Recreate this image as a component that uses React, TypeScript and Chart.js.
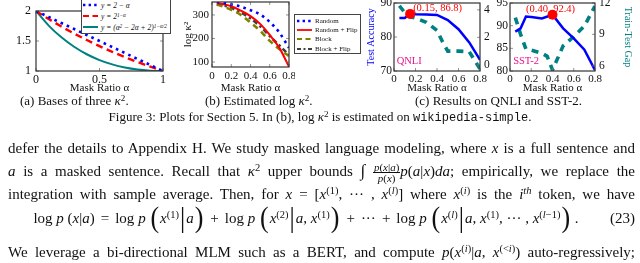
import React, { useEffect, useRef } from "react";
import { Chart, registerables } from "chart.js";
Chart.register(...registerables);

const SERIF = "'Liberation Serif','Times New Roman',Times,serif";
const MONO = "'Liberation Mono','DejaVu Sans Mono',monospace";

// ---------- (a) Bases of three kappa^2 ----------
const maskRatioA = [0, 0.1, 0.2, 0.3, 0.4, 0.5, 0.6, 0.7, 0.8, 0.9, 1.0];
const baseLinear = [2.0, 1.9, 1.8, 1.7, 1.6, 1.5, 1.4, 1.3, 1.2, 1.1, 1.0];
const baseExp = [2.0, 1.866, 1.741, 1.625, 1.516, 1.414, 1.32, 1.231, 1.149, 1.072, 1.0];
const baseQuad = [2.0, 1.757, 1.561, 1.404, 1.279, 1.182, 1.11, 1.058, 1.024, 1.006, 1.0];
const xTicksA = [0, 0.5, 1];
const xTickLabelsA = ["0", "0.5", "1"];
const yTicksA = [1, 1.5, 2];
const yTickLabelsA = ["1", "1.5", "2"];

// ---------- (b) Estimated log kappa^2 ----------
const maskRatioB = [0.05, 0.1, 0.2, 0.3, 0.4, 0.5, 0.6, 0.7, 0.8];
const logKRandom = [355, 352, 345, 335, 320, 302, 270, 225, 160];
const logKRandomFlip = [350, 347, 337, 318, 295, 262, 215, 160, 80];
const logKBlock = [344, 338, 322, 300, 268, 233, 190, 155, 125];
const logKBlockFlip = [346, 342, 330, 310, 285, 252, 210, 170, 130];
const legendB = ["Random", "Random + Flip", "Block", "Block + Flip"];
const xTicksB = [0, 0.2, 0.4, 0.6, 0.8];
const xTickLabelsB = ["0", "0.2", "0.4", "0.6", "0.8"];
const yTicksB = [100, 200, 300];
const yTickLabelsB = ["100", "200", "300"];

// ---------- (c) QNLI ----------
const ratioQnliAcc = [0.05, 0.1, 0.15, 0.2, 0.3, 0.4, 0.5, 0.6, 0.7, 0.8];
const qnliAcc = [85.6, 85.6, 86.8, 86.7, 86.6, 86.5, 85.0, 82.3, 78.4, 73.3];
const ratioQnliGap = [0.05, 0.1, 0.15, 0.2, 0.3, 0.4, 0.45, 0.5, 0.6, 0.7, 0.8];
const qnliGap = [4.3, 3.8, 3.5, 3.4, 3.1, 2.5, 1.7, 1.0, 1.0, 0.95, -0.3];
const qnliBest = [0.15, 86.8];
const yTicksQnliAcc = [70, 80, 90];
const yTicksQnliGap = [0, 2, 4];

// ---------- (c) SST-2 ----------
const ratioSstAcc = [0.05, 0.1, 0.15, 0.2, 0.3, 0.4, 0.5, 0.6, 0.7, 0.8];
const sstAcc = [88.7, 89.4, 92.0, 91.9, 91.6, 92.4, 89.4, 87.2, 84.7, 80.2];
const ratioSstGap = [0.05, 0.1, 0.15, 0.2, 0.3, 0.35, 0.4, 0.5, 0.6, 0.7, 0.8];
const sstGap = [10.6, 9.0, 7.6, 7.5, 7.2, 6.9, 5.6, 7.9, 8.8, 9.8, 11.7];
const sstBest = [0.4, 92.4];
const yTicksSstAcc = [80, 85, 90, 95];
const yTicksSstGap = [6, 9, 12];
const xTicksC = [0, 0.2, 0.4, 0.6, 0.8];
const xTickLabelsC = ["0", "0.2", "0.4", "0.6", "0.8"];

const BLUE = "#0000ff";
const RED = "#ff0000";
const TEAL = "#008080";
const OLIVE = "#808000";
const DGRAY = "#404040";
const MAGENTA = "#e6148c";

const pts = (xs: number[], ys: number[]) => xs.map((x, i) => ({ x, y: ys[i] }));

const annotationPlugin = {
  id: "annot",
  afterDatasetsDraw(chart: any, _args: any, opts: any) {
    const items = (opts && opts.items) || [];
    const ctx = chart.ctx;
    ctx.save();
    for (const it of items) {
      const xs = chart.scales.x;
      const ys = chart.scales[it.yAxis || "y"];
      const px = xs.getPixelForValue(it.x) + (it.dx || 0);
      const py = ys.getPixelForValue(it.y) + (it.dy || 0);
      ctx.font = `${it.size}px ${SERIF}`;
      ctx.fillStyle = it.color;
      ctx.textAlign = it.align;
      ctx.textBaseline = "middle";
      ctx.fillText(it.text, px, py);
    }
    ctx.restore();
  },
};

const framePlugin = {
  id: "frame",
  afterDraw(chart: any, _a: any, opts: any) {
    const { left, right, top, bottom } = chart.chartArea;
    const ctx = chart.ctx;
    const mirror = opts && opts.mirror;
    ctx.save();
    ctx.strokeStyle = "#777";
    ctx.lineWidth = 0.8;
    for (const s of Object.values(chart.scales) as any[]) {
      for (const t of s.ticks) {
        const p = s.getPixelForValue(t.value);
        ctx.beginPath();
        if (s.isHorizontal()) {
          ctx.moveTo(p, bottom);
          ctx.lineTo(p, bottom - 3);
          if (mirror) {
            ctx.moveTo(p, top);
            ctx.lineTo(p, top + 3);
          }
        } else if (s.position === "left") {
          ctx.moveTo(left, p);
          ctx.lineTo(left + 3, p);
          if (mirror) {
            ctx.moveTo(right, p);
            ctx.lineTo(right - 3, p);
          }
        } else {
          ctx.moveTo(right, p);
          ctx.lineTo(right - 3, p);
        }
        ctx.stroke();
      }
    }
    ctx.strokeStyle = "#333";
    ctx.lineWidth = 1.2;
    ctx.strokeRect(left, top, right - left, bottom - top);
    ctx.restore();
  },
};
Chart.register(annotationPlugin as any, framePlugin as any);

const makeScale = (c: any) => ({
  type: "linear",
  position: c.position,
  min: c.min,
  max: c.max,
  grid: { display: false, drawTicks: false, drawOnChartArea: false },
  border: { display: false },
  ticks: {
    font: { family: SERIF, size: c.size },
    color: "#111",
    padding: c.pad,
    autoSkip: false,
    maxRotation: 0,
    callback: (_v: any, i: number) => c.labels[i],
  },
  title: c.title
    ? {
        display: true,
        text: c.title,
        color: c.titleColor || "#111",
        font: { family: SERIF, size: c.titleSize },
        padding: { top: c.titlePad || 0, bottom: 0 },
      }
    : { display: false },
  afterBuildTicks: (s: any) => {
    s.ticks = c.ticks.map((v: number) => ({ value: v }));
  },
  afterFit: (s: any) => {
    if (c.width != null) s.width = c.width;
    if (c.height != null) s.height = c.height;
    s.paddingLeft = 0;
    s.paddingRight = 0;
    s.paddingTop = 0;
    s.paddingBottom = 0;
  },
});

const baseOptions = (padding: any, scales: any, plugins: any) => ({
  responsive: false,
  maintainAspectRatio: false,
  animation: false,
  devicePixelRatio: 1,
  layout: { padding, autoPadding: false },
  plugins: { legend: { display: false }, title: { display: false }, tooltip: { enabled: false }, ...plugins },
  scales,
});

const lineDs = (data: any, color: string, width: number, dash: number[], extra: any = {}) => ({
  data,
  borderColor: color,
  backgroundColor: color,
  borderWidth: width,
  borderDash: dash,
  pointRadius: 0,
  fill: false,
  tension: 0,
  ...extra,
});

const configA = () => ({
  type: "line",
  data: {
    datasets: [
      lineDs(pts(maskRatioA, baseLinear), BLUE, 2.6, [2.6, 4.2], { cubicInterpolationMode: "monotone" }),
      lineDs(pts(maskRatioA, baseExp), RED, 2.4, [7, 4.5], { cubicInterpolationMode: "monotone" }),
      lineDs(pts(maskRatioA, baseQuad), TEAL, 2, [], { cubicInterpolationMode: "monotone" }),
    ],
  },
  options: baseOptions(
    { top: 11, right: 7, left: 0, bottom: 0 },
    {
      x: makeScale({ position: "bottom", min: 0, max: 1, ticks: xTicksA, labels: xTickLabelsA, size: 12, pad: 2, height: 24, title: "Mask Ratio α", titleSize: 11 }),
      y: makeScale({ position: "left", min: 1, max: 2, ticks: yTicksA, labels: yTickLabelsA, size: 12, pad: 5, width: 36 }),
    },
    { frame: { mirror: true } }
  ),
});

const configB = () => ({
  type: "line",
  data: {
    datasets: [
      lineDs(pts(maskRatioB, logKRandom), BLUE, 2.6, [2.6, 4.2], { cubicInterpolationMode: "monotone" }),
      lineDs(pts(maskRatioB, logKRandomFlip), RED, 2, [], { cubicInterpolationMode: "monotone" }),
      lineDs(pts(maskRatioB, logKBlock), OLIVE, 2.6, [6, 4.5], { cubicInterpolationMode: "monotone" }),
      lineDs(pts(maskRatioB, logKBlockFlip), DGRAY, 2.6, [5, 3, 2.5, 3], { cubicInterpolationMode: "monotone" }),
    ],
  },
  options: baseOptions(
    { top: 2, right: 6, left: 0, bottom: 0 },
    {
      x: makeScale({ position: "bottom", min: 0, max: 0.8, ticks: xTicksB, labels: xTickLabelsB, size: 11, pad: 3, height: 28, title: "Mask Ratio α", titleSize: 11 }),
      y: makeScale({ position: "left", min: 78.7, max: 355, ticks: yTicksB, labels: yTickLabelsB, size: 11, pad: 3, width: 52, title: "log κ²", titleSize: 11, titlePad: 22 }),
    },
    { frame: { mirror: true } }
  ),
});

const configC = (
  accX: number[], acc: number[], gapX: number[], gap: number[], best: number[],
  accMin: number, accMax: number, accTicks: number[],
  gapMin: number, gapMax: number, gapTicks: number[],
  leftW: number, rightW: number, leftTitle: string | null, rightTitle: string | null,
  annots: any[]
) => ({
  type: "line",
  data: {
    datasets: [
      {
        data: [{ x: best[0], y: best[1] }],
        yAxisID: "y",
        showLine: false,
        pointRadius: 5,
        pointBackgroundColor: RED,
        pointBorderColor: RED,
        pointBorderWidth: 0,
        clip: false,
      },
      lineDs(pts(accX, acc), BLUE, 2.5, [], { yAxisID: "y" }),
      lineDs(pts(gapX, gap), TEAL, 3.6, [7, 6], { yAxisID: "y1" }),
    ],
  },
  options: baseOptions(
    { top: 3, right: 0, left: 0, bottom: 0 },
    {
      x: makeScale({ position: "bottom", min: 0, max: 0.8, ticks: xTicksC, labels: xTickLabelsC, size: 11, pad: 2, height: 24, title: "Mask Ratio α", titleSize: 11 }),
      y: makeScale({
        position: "left", min: accMin, max: accMax, ticks: accTicks, labels: accTicks.map(String), size: 11.5, pad: 2, width: leftW,
        title: leftTitle, titleColor: BLUE, titleSize: 10, titlePad: 10,
      }),
      y1: makeScale({
        position: "right", min: gapMin, max: gapMax, ticks: gapTicks, labels: gapTicks.map(String), size: 11.5, pad: 4, width: rightW,
        title: rightTitle, titleColor: TEAL, titleSize: 10, titlePad: 6,
      }),
    },
    { frame: { mirror: false }, annot: { items: annots } }
  ),
});

function ChartBox({ left, top, width, height, make }: any) {
  const ref = useRef<HTMLCanvasElement>(null);
  useEffect(() => {
    const chart = new Chart(ref.current as HTMLCanvasElement, make());
    return () => chart.destroy();
  }, []);
  return (
    <div style={{ position: "absolute", left, top, width, height }}>
      <canvas ref={ref} width={width} height={height} style={{ display: "block", width, height }} />
    </div>
  );
}

const Sample = ({ color, dash, w }: any) => (
  <svg width={15} height={6} style={{ display: "block", flex: "none" }}>
    <line x1={0} y1={3} x2={15} y2={3} stroke={color} strokeWidth={w} strokeDasharray={dash} />
  </svg>
);

const Sup = ({ children }: any) => (
  <sup style={{ fontSize: "0.7em", verticalAlign: "0.45em", lineHeight: 0 }}>{children}</sup>
);

const Big = ({ children }: any) => (
  <span style={{ fontSize: 26, lineHeight: 0, verticalAlign: "-3px", fontWeight: 300, display: "inline-block", transform: "scaleY(1.12)", margin: "0 1px" }}>{children}</span>
);

const Op = ({ children }: any) => <span style={{ margin: "0 6px" }}>{children}</span>;

const line = (top: number): React.CSSProperties => ({
  position: "absolute",
  left: 8,
  width: 627,
  top,
  fontSize: 15,
  lineHeight: "18px",
  whiteSpace: "nowrap",
  textAlign: "justify",
  textAlignLast: "justify",
});

export default function App() {
  return (
    <div
      style={{
        position: "fixed",
        left: 0,
        top: 0,
        width: 640,
        height: 263,
        overflow: "hidden",
        background: "#fff",
        fontFamily: SERIF,
        color: "#111",
      }}
    >
      <ChartBox left={0} top={0} width={170} height={95} make={configA} />
      <ChartBox left={160} top={0} width={135} height={95} make={configB} />
      <ChartBox
        left={355}
        top={0}
        width={145}
        height={95}
        make={() =>
          configC(ratioQnliAcc, qnliAcc, ratioQnliGap, qnliGap, qnliBest, 70, 90, yTicksQnliAcc, -0.45, 4.5, yTicksQnliGap, 39, 20, "Test Accuracy", null, [
            { x: qnliBest[0], y: qnliBest[1], dx: 3, dy: -6, text: "(0.15, 86.8)", color: RED, size: 10.5, align: "left" },
            { x: 0.025, y: 72.9, text: "QNLI", color: MAGENTA, size: 10.5, align: "left" },
          ])
        }
      />
      <ChartBox
        left={492}
        top={0}
        width={148}
        height={95}
        make={() =>
          configC(ratioSstAcc, sstAcc, ratioSstGap, sstGap, sstBest, 80, 95, yTicksSstAcc, 5.5, 12, yTicksSstGap, 18, 45, null, "Train-Test Gap", [
            { x: sstBest[0], y: sstBest[1], dx: -2, dy: -6, text: "(0.40, 92.4)", color: RED, size: 10.5, align: "center" },
            { x: 0.03, y: 82.2, text: "SST-2", color: MAGENTA, size: 10.5, align: "left" },
          ])
        }
      />

      {/* legend (a) */}
      <div
        style={{
          position: "absolute",
          left: 81,
          top: -1,
          width: 88,
          height: 33,
          border: "1px solid #444",
          background: "#fff",
          overflow: "hidden",
          fontSize: 7.5,
          fontStyle: "italic",
        }}
      >
        {[
          { c: BLUE, d: "2.4 3.2", w: 2.4, t: <>y = 2 − α</>, y: 5 },
          { c: RED, d: "6 3.5", w: 2.2, t: <>y = 2<Sup>1−α</Sup></>, y: 16 },
          { c: TEAL, d: "", w: 2, t: <>y = (α<Sup>2</Sup> − 2α + 2)<Sup>1−α/2</Sup></>, y: 27 },
        ].map((r, i) => (
          <div key={i} style={{ position: "absolute", left: 1, top: r.y - 5, height: 10, display: "flex", alignItems: "center", whiteSpace: "nowrap" }}>
            <Sample color={r.c} dash={r.d} w={r.w} />
            <span style={{ marginLeft: 3 }}>{r.t}</span>
          </div>
        ))}
      </div>

      {/* legend (b) */}
      <div
        style={{
          position: "absolute",
          left: 294,
          top: 14,
          width: 65,
          height: 38,
          border: "1px solid #444",
          background: "#fff",
          overflow: "hidden",
          fontSize: 7,
        }}
      >
        {[
          { c: BLUE, d: "2.4 3.2", w: 2.4 },
          { c: RED, d: "", w: 1.8 },
          { c: OLIVE, d: "5 3.5", w: 2.2 },
          { c: DGRAY, d: "4 2.5 2 2.5", w: 2.2 },
        ].map((r, i) => (
          <div key={i} style={{ position: "absolute", left: 2, top: 1.5 + i * 9.2, height: 9, display: "flex", alignItems: "center", whiteSpace: "nowrap" }}>
            <Sample color={r.c} dash={r.d} w={r.w} />
            <span style={{ marginLeft: 3 }}>{legendB[i]}</span>
          </div>
        ))}
      </div>

      {/* sub-captions */}
      <div style={{ position: "absolute", top: 93, left: 20, fontSize: 13, whiteSpace: "nowrap" }}>
        (a) Bases of three <i>κ</i><Sup>2</Sup>.
      </div>
      <div style={{ position: "absolute", top: 93, left: 205, fontSize: 13, whiteSpace: "nowrap" }}>
        (b) Estimated log <i>κ</i><Sup>2</Sup>.
      </div>
      <div style={{ position: "absolute", top: 93, left: 415, fontSize: 13, whiteSpace: "nowrap" }}>
        (c) Results on QNLI and SST-2.
      </div>
      <div style={{ position: "absolute", top: 109, left: 0, width: 640, textAlign: "center", fontSize: 13, whiteSpace: "nowrap" }}>
        Figure 3: Plots for Section 5. In (b), log <i>κ</i><Sup>2</Sup> is estimated on{" "}
        <span style={{ fontFamily: MONO, fontSize: 12 }}>wikipedia-simple</span>.
      </div>

      {/* body text */}
      <div style={line(139)}>
        defer the details to Appendix H. We study masked language modeling, where <i>x</i> is a full sentence and
      </div>
      <div style={line(162)}>
        <i>a</i> is a masked sentence. Recall that <i>κ</i><Sup>2</Sup> upper bounds <span style={{ fontSize: 17 }}>∫</span>{" "}
        <span style={{ display: "inline-block", verticalAlign: "middle", textAlign: "center", fontSize: 11, lineHeight: "10px", textAlignLast: "center" }}>
          <span style={{ display: "block", borderBottom: "0.8px solid #111", padding: "0 1px" }}>
            <i>p</i>(<i>x</i>|<i>a</i>)
          </span>
          <span style={{ display: "block" }}>
            <i>p</i>(<i>x</i>)
          </span>
        </span>
        <i>p</i>(<i>a</i>|<i>x</i>)<i>da</i>; empirically, we replace the
      </div>
      <div style={line(185)}>
        integration with sample average. Then, for <i>x</i> = [<i>x</i><Sup>(1)</Sup>, ··· , <i>x</i><Sup>(<i>l</i>)</Sup>] where{" "}
        <i>x</i><Sup>(<i>i</i>)</Sup> is the <i>i</i><Sup><i>th</i></Sup> token, we have
      </div>
      <div style={{ position: "absolute", left: 0, width: 612, top: 209, fontSize: 15, lineHeight: "18px", textAlign: "center", whiteSpace: "nowrap" }}>
        log <i>p</i> (<i>x</i>|<i>a</i>)<Op>=</Op>log <i>p</i> <Big>(</Big><i>x</i><Sup>(1)</Sup><Big>|</Big><i>a</i><Big>)</Big>
        <Op>+</Op>log <i>p</i> <Big>(</Big><i>x</i><Sup>(2)</Sup><Big>|</Big><i>a</i>, <i>x</i><Sup>(1)</Sup><Big>)</Big>
        <Op>+</Op>···<Op>+</Op>log <i>p</i> <Big>(</Big><i>x</i><Sup>(<i>l</i>)</Sup><Big>|</Big><i>a</i>, <i>x</i><Sup>(1)</Sup>, ··· , <i>x</i>
        <Sup>(<i>l</i>−1)</Sup><Big>)</Big> .
      </div>
      <div style={{ position: "absolute", right: 5, top: 209, fontSize: 15, lineHeight: "18px" }}>(23)</div>
      <div style={line(243)}>
        We leverage a bi-directional MLM such as a BERT, and compute <i>p</i>(<i>x</i><Sup>(<i>i</i>)</Sup>|<i>a</i>, <i>x</i>
        <Sup>(&lt;<i>i</i>)</Sup>) auto-regressively;
      </div>
    </div>
  );
}
